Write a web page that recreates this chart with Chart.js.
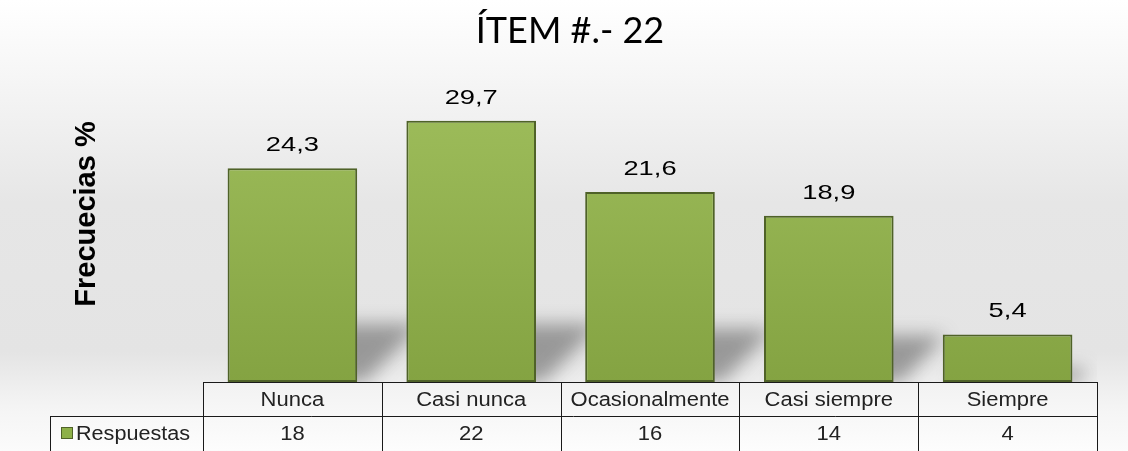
<!DOCTYPE html>
<html lang="es">
<head>
<meta charset="utf-8">
<title>ÍTEM #.- 22</title>
<script src="https://cdn.jsdelivr.net/npm/chart.js@4.4.1/dist/chart.umd.min.js"></script>
<style>
  html, body { margin: 0; padding: 0; background: #fff; }
  #wrap { position: relative; width: 1128px; height: 451px; }
</style>
</head>
<body>
<div id="wrap"><canvas id="grafico"></canvas></div>
<script>
(() => {
  "use strict";

  // ---------- datos ----------
  const categorias = ["Nunca", "Casi nunca", "Ocasionalmente", "Casi siempre", "Siempre"];
  const porcentajes = [24.3, 29.7, 21.6, 18.9, 5.4];
  const respuestas = [18, 22, 16, 14, 4];
  const serieNombre = "Respuestas";
  const tituloTexto = "ÍTEM #.- 22";
  const ejeYTexto = "Frecuecias %";

  const fmt = (v) => v.toFixed(1).replace(".", ",");

  // texto estirado en horizontal (como en la imagen original)
  function textoAncho(ctx, txt, x, y, sx, align) {
    ctx.save();
    ctx.translate(x, y);
    ctx.scale(sx, 1);
    ctx.textAlign = align || "center";
    ctx.fillText(txt, 0, 0);
    ctx.restore();
  }

  // ---------- fondo degradado ----------
  const fondo = {
    id: "fondo",
    beforeDraw(chart) {
      const { ctx, width, height } = chart;
      const g = ctx.createLinearGradient(0, 0, 0, height);
      g.addColorStop(0, "#ffffff");
      g.addColorStop(0.15, "#f7f7f7");
      g.addColorStop(0.45, "#e6e6e6");
      g.addColorStop(0.78, "#e4e4e4");
      g.addColorStop(0.9, "#f4f4f4");
      g.addColorStop(1, "#fbfbfb");
      ctx.save();
      ctx.fillStyle = g;
      ctx.fillRect(0, 0, width, height);
      ctx.restore();
    }
  };

  // ---------- sombra detrás de las barras ----------
  const sombra = {
    id: "sombra",
    beforeDatasetsDraw(chart) {
      const { ctx, chartArea } = chart;
      const meta = chart.getDatasetMeta(0);
      ctx.save();
      ctx.beginPath();
      ctx.rect(chartArea.left, chartArea.top, chartArea.right - chartArea.left, chartArea.bottom - chartArea.top);
      ctx.clip();
      ctx.filter = "blur(9px)";
      ctx.fillStyle = "rgba(60,60,60,0.45)";
      meta.data.forEach((bar) => {
        const x0 = bar.x - bar.width / 2;
        const x1 = bar.x + bar.width / 2;
        const base = bar.base;
        const h = Math.min((base - bar.y) * 0.28, 58);
        const d = h * 1.1;
        ctx.beginPath();
        ctx.moveTo(x0 + 10, base);
        ctx.lineTo(x1 + 8, base);
        ctx.lineTo(x1 + d, base - h);
        ctx.lineTo(x0 + d, base - h);
        ctx.closePath();
        ctx.fill();
      });
      ctx.restore();
    }
  };

  // ---------- etiquetas de valor ----------
  const etiquetas = {
    id: "etiquetas",
    afterDatasetsDraw(chart) {
      const { ctx } = chart;
      const meta = chart.getDatasetMeta(0);
      ctx.save();
      ctx.fillStyle = "#000";
      ctx.font = "21px 'Liberation Sans', Arial, sans-serif";
      ctx.textBaseline = "middle";
      meta.data.forEach((bar, i) => {
        textoAncho(ctx, fmt(porcentajes[i]), bar.x, bar.y - 23, 1.3);
      });
      ctx.restore();
    }
  };

  // ---------- título del eje Y ----------
  const tituloY = {
    id: "tituloY",
    afterDraw(chart) {
      const { ctx } = chart;
      ctx.save();
      ctx.translate(87, 214);
      ctx.rotate(-Math.PI / 2);
      ctx.fillStyle = "#000";
      ctx.font = "bold 29px 'Liberation Sans', Arial, sans-serif";
      ctx.textAlign = "center";
      ctx.textBaseline = "middle";
      ctx.fillText(ejeYTexto, 0, 0);
      ctx.restore();
    }
  };

  // ---------- tabla de datos ----------
  const tabla = {
    id: "tabla",
    afterDraw(chart) {
      const { ctx, chartArea } = chart;
      const xs = chart.scales.x;
      const base = chartArea.bottom;
      const fila = 34;
      const fondoTabla = 451 + 10;
      const izq = 50;

      const bordes = [chartArea.left];
      for (let i = 1; i < categorias.length; i++) {
        bordes.push((xs.getPixelForValue(i - 1) + xs.getPixelForValue(i)) / 2);
      }
      bordes.push(chartArea.right);

      ctx.save();
      // fondo claro de las celdas
      const g = ctx.createLinearGradient(0, base, 0, base + 2 * fila);
      g.addColorStop(0, "#f2f2f2");
      g.addColorStop(1, "#fdfdfd");
      ctx.fillStyle = g;
      ctx.fillRect(chartArea.left, base, chartArea.right - chartArea.left, 2 * fila);
      ctx.fillRect(izq, base + fila, chartArea.left - izq, fila);

      ctx.strokeStyle = "#1a1a1a";
      ctx.lineWidth = 1;
      ctx.beginPath();
      ctx.moveTo(chartArea.left, base + 0.5);
      ctx.lineTo(chartArea.right, base + 0.5);
      ctx.moveTo(izq, base + fila + 0.5);
      ctx.lineTo(chartArea.right, base + fila + 0.5);
      bordes.forEach((b) => {
        const x = Math.round(b) + 0.5;
        ctx.moveTo(x, base);
        ctx.lineTo(x, fondoTabla);
      });
      ctx.moveTo(izq + 0.5, base + fila);
      ctx.lineTo(izq + 0.5, fondoTabla);
      ctx.stroke();

      ctx.fillStyle = "#222";
      ctx.font = "20px 'Liberation Sans', Arial, sans-serif";
      ctx.textBaseline = "middle";
      categorias.forEach((c, i) => {
        const cx = xs.getPixelForValue(i);
        textoAncho(ctx, c, cx, base + fila / 2 + 1, 1.1);
        textoAncho(ctx, String(respuestas[i]), cx, base + fila * 1.5 + 1, 1.1);
      });

      // leyenda de la serie
      ctx.fillStyle = "#8db048";
      ctx.strokeStyle = "#4f6228";
      ctx.fillRect(61, base + fila + 11, 12, 12);
      ctx.strokeRect(61.5, base + fila + 11.5, 11, 11);
      ctx.fillStyle = "#222";
      textoAncho(ctx, serieNombre, 76, base + fila * 1.5 + 1, 1.08, "left");
      ctx.restore();
    }
  };

  // ejes invisibles que sólo reservan espacio a izquierda y derecha
  const ejeVacio = (pos, ancho) => ({
    display: true,
    position: pos,
    min: 0,
    max: 35,
    ticks: { display: false },
    grid: { display: false },
    border: { display: false },
    afterFit: (s) => { s.width = ancho; },
  });

  // ---------- gráfico ----------
  const canvas = document.getElementById("grafico");
  new Chart(canvas, {
    type: "bar",
    data: {
      labels: categorias,
      datasets: [{
        label: serieNombre,
        data: porcentajes,
        backgroundColor: (c) => {
          const area = c.chart.chartArea;
          if (!area) return "#8db048";
          const g = c.chart.ctx.createLinearGradient(0, area.top, 0, area.bottom);
          g.addColorStop(0, "#a0bf5d");
          g.addColorStop(1, "#84a342");
          return g;
        },
        borderColor: "#4f6228",
        borderWidth: 2,
        borderSkipped: false,
        categoryPercentage: 1,
        barPercentage: 0.725,
      }],
    },
    options: {
      responsive: true,
      maintainAspectRatio: false,
      animation: false,
      layout: { padding: { left: 12, right: 0, bottom: 69, top: 0 } },
      plugins: {
        legend: { display: false },
        tooltip: { enabled: false },
        title: {
          display: true,
          text: tituloTexto,
          color: "#000",
          font: { family: "Lato, 'Open Sans', sans-serif", size: 36, weight: "normal" },
          padding: { top: 10, bottom: 21 },
        },
      },
      scales: {
        x: { display: false },
        y: ejeVacio("left", 191),
        y2: ejeVacio("right", 31),
      },
    },
    plugins: [fondo, sombra, etiquetas, tituloY, tabla],
  });
})();
</script>
</body>
</html>
